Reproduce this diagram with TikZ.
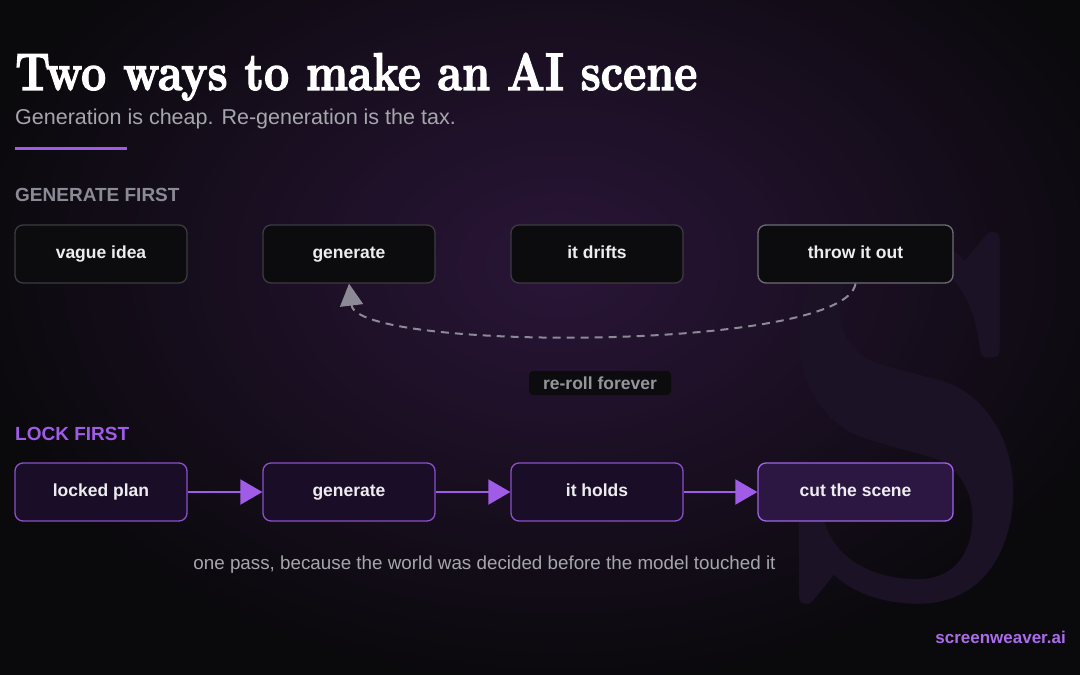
\documentclass[tikz,border=0pt]{standalone}
\usepackage{fontspec}
\setmainfont{Liberation Sans}
\newfontfamily\dispfont{lmroman10-bold}[Extension=.otf, FakeBold=2.5]
\newfontfamily\markfont{lmroman10-bold}[Extension=.otf]
\usetikzlibrary{arrows.meta,positioning}

\definecolor{bgdark}{HTML}{0A090C}
\definecolor{glow}{HTML}{2A1538}
\definecolor{boxdark}{HTML}{0C0B0E}
\definecolor{edgegray}{HTML}{3C3B42}
\definecolor{edgelight}{HTML}{6E6D74}
\definecolor{boxtext}{HTML}{EDEDF0}
\definecolor{lockfill}{HTML}{1A0D27}
\definecolor{lockedge}{HTML}{8C50CC}
\definecolor{cutfill}{HTML}{2C1743}
\definecolor{cutedge}{HTML}{A263E8}
\definecolor{accent}{HTML}{A05CE6}
\definecolor{hdrgray}{HTML}{8B8B96}
\definecolor{softgray}{HTML}{A6A6AD}
\definecolor{dashgray}{HTML}{8C8A96}
\definecolor{ghost}{HTML}{1B1225}

\begin{document}
\begin{tikzpicture}[x=1pt, y=-1pt,
    topbox/.style={draw=edgegray, fill=boxdark, line width=1.3pt, rounded corners=8pt, minimum width=172pt, minimum height=58pt, text height=12.7pt, text depth=3.7pt, font=\fontsize{17.5}{20}\selectfont\bfseries, text=boxtext},
    lockbox/.style={topbox, draw=lockedge, fill=lockfill},
    hdr/.style={anchor=west, inner sep=0pt, font=\fontsize{19}{22}\selectfont\bfseries},
    flow/.style={-{Triangle[length=22pt, width=25pt]}, line width=2pt, accent},
    loopback/.style={-{Triangle[length=22pt, width=23pt]}, line width=2pt, dashgray, dash pattern=on 8pt off 6pt},
    lbl/.style={fill=boxdark, rounded corners=4pt, minimum width=142pt, minimum height=24pt, inner sep=0pt, text=softgray!90!black, font=\fontsize{17.5}{20}\selectfont\bfseries}
]
% background and glow
\fill[bgdark] (0,0) rectangle (1080,675);
\begin{scope}
  \clip (0,0) rectangle (1080,675);
  \shade[inner color=glow, outer color=bgdark] (560,265) ellipse [x radius=600, y radius=420];
\end{scope}
\useasboundingbox (0,0) rectangle (1080,675);

% watermark
\node[anchor=base west, inner sep=0pt, text=ghost] (mark) at (772,598) {\resizebox{268pt}{366pt}{\markfont S}};

% heading
\node[anchor=base west, inner sep=0pt, text=white] (title) at (15,90) {\resizebox{682pt}{37pt}{\dispfont Two ways to make an AI scene}};
\node[anchor=base west, inner sep=0pt, text=softgray, font=\fontsize{21.5}{24}\selectfont] (sub) at (15,124) {Generation is cheap. Re-generation is the tax.};
\draw[accent, line width=3pt] (15,148) -- (127,148);

% generate first
\node[hdr, text=hdrgray] (genhdr) at (15,195) {GENERATE FIRST};
\node[topbox] (vague) at (101,254) {vague idea};
\node[topbox] (gen1) at (349,254) {generate};
\node[topbox] (drift) at (597,254) {it drifts};
\node[topbox, draw=edgelight, minimum width=195pt] (throw) at (855.5,254) {throw it out};
\draw[loopback] (throw.south) .. controls +(-10,68) and +(8,68) .. (gen1.south);
\node[lbl] (reroll) at (600,383) {re-roll forever};

% lock first
\node[hdr, text=accent] (lockhdr) at (15,434) {LOCK FIRST};
\node[lockbox] (plan) at (101,492) {locked plan};
\node[lockbox] (gen2) at (349,492) {generate};
\node[lockbox] (hold) at (597,492) {it holds};
\node[lockbox, draw=cutedge, fill=cutfill, minimum width=195pt] (cut) at (855.5,492) {cut the scene};
\draw[flow] (plan) -- (gen2);
\draw[flow] (gen2) -- (hold);
\draw[flow] (hold) -- (cut);

\node[anchor=base, inner sep=0pt, text=softgray, font=\fontsize{18.8}{22}\selectfont] (note) at (484.5,569) {one pass, because the world was decided before the model touched it};
\node[anchor=base east, inner sep=0pt, text=accent!90!white, font=\fontsize{17}{20}\selectfont\bfseries] (brand) at (1066,643) {screenweaver.ai};
\end{tikzpicture}
\end{document}
